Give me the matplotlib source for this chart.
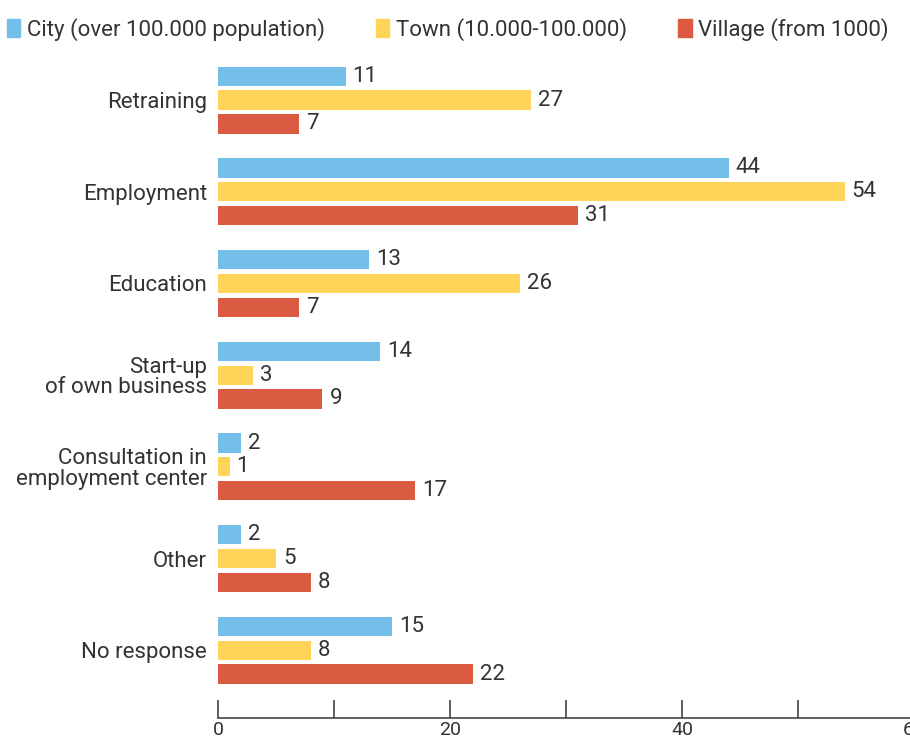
import matplotlib.pyplot as plt
import numpy as np
from matplotlib.patches import Patch

categories = ['Retraining', 'Employment', 'Education', 'Start-up\nof own business',
              'Consultation in\nemployment center', 'Other', 'No response']
city = [11, 44, 13, 14, 2, 2, 15]
town = [27, 54, 26, 3, 1, 5, 8]
village = [7, 31, 7, 9, 17, 8, 22]
series_names = ['City (over 100.000 population)', 'Town (10.000-100.000)', 'Village (from 1000)']
colors = ['#74BFE9', '#FFD458', '#DA5A42']

plt.rcParams['font.family'] = ['Roboto', 'DejaVu Sans']
txt = '#333333'

fig = plt.figure(figsize=(9.10, 7.40), dpi=100)
ax = fig.add_axes([0.2396, 0.0297, 0.765, 0.889])

y = np.arange(len(categories))
off = 0.26
h = 0.21
for vals, dy, c in zip([city, town, village], [-off, 0, off], colors):
    bars = ax.barh(y + dy, vals, height=h, color=c)
    ax.bar_label(bars, padding=5, fontsize=16, color=txt)

ax.set_ylim(6.739, -0.435)
ax.set_xlim(0, 60)
ax.set_yticks(y)
ax.set_yticklabels(categories, fontsize=16, color=txt, linespacing=0.95)
ax.tick_params(axis='y', length=0, pad=8)
ax.set_xticks(range(0, 61, 10))
ax.set_xticklabels(['0', '', '20', '', '40', '', '60'], fontsize=14, color=txt)
ax.tick_params(axis='x', direction='in', length=13, width=1.2, color='#444', pad=2)
for s in ['top', 'right', 'left']:
    ax.spines[s].set_visible(False)
ax.spines['bottom'].set_color('#444')
ax.spines['bottom'].set_linewidth(1.2)

handles = [Patch(color=c) for c in colors]
fig.legend(handles, series_names, ncol=3, loc='upper left', bbox_to_anchor=(-0.012, 1.0),
           frameon=False, fontsize=16, handlelength=0.6, handleheight=0.9,
           handletextpad=0.3, columnspacing=2.3, labelcolor=txt, borderaxespad=0.4)

fig.savefig('out.png', dpi=100)
